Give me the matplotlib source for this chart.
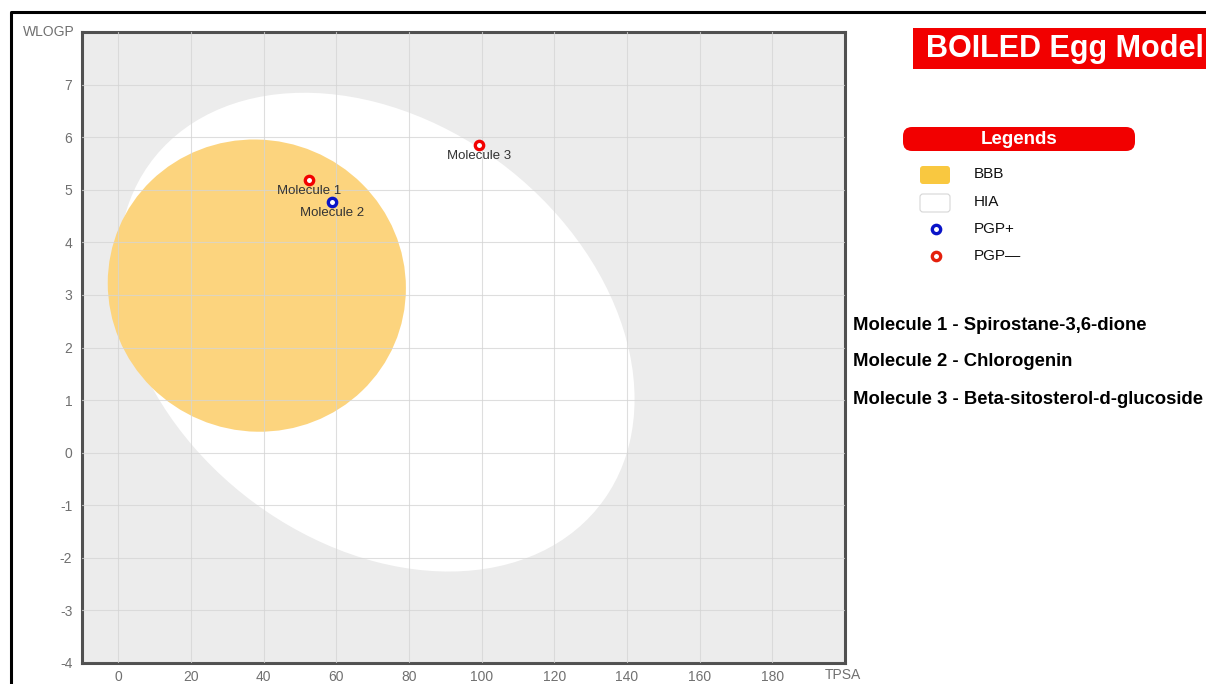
import matplotlib
matplotlib.use("Agg")
import matplotlib.pyplot as plt
from matplotlib.patches import Ellipse, Rectangle, FancyBboxPatch

# Molecules placed on the BOILED-Egg plane
molecule_labels = ["Molecule 1", "Molecule 2", "Molecule 3"]
molecule_names = ["Spirostane-3,6-dione", "Chlorogenin", "Beta-sitosterol-d-glucoside"]
tpsa = [52.60, 58.92, 99.38]
wlogp = [5.19, 4.77, 5.86]
pgp_substrate = [False, True, False]

# Region ellipses (centre x, centre y, width, height, angle in degrees)
hia_ellipse = (71.051, 2.292, 142.081, 8.740, -1.031325)
bbb_ellipse = (38.117, 3.177, 82.061, 5.557, -0.066883)

x_ticks = [0, 20, 40, 60, 80, 100, 120, 140, 160, 180]
y_ticks = [-4, -3, -2, -1, 0, 1, 2, 3, 4, 5, 6, 7]
legend_items = ["BBB", "HIA", "PGP+", "PGP\u2014"]

YOLK = "#FCD47E"
RED = "#F20000"
BLUE = "#0A14C8"
PGPRED = "#E4200C"

plt.rcParams["font.family"] = ["Liberation Sans", "DejaVu Sans"]
plt.rcParams["axes.unicode_minus"] = False

W, H = 1206, 684
fig = plt.figure(figsize=(W / 100, H / 100), dpi=100)

# main plotting area
ax = fig.add_axes([82 / W, 1 - 663 / H, (845 - 82) / W, (663 - 32) / H])
ax.set_facecolor("#ECECEC")
ax.set_xlim(-10, 200)
ax.set_ylim(-4, 8)

cx, cy, w, h, ang = hia_ellipse
ax.add_patch(Ellipse((cx, cy), w, h, angle=ang, facecolor="white", edgecolor="none", zorder=1))
cx, cy, w, h, ang = bbb_ellipse
ax.add_patch(Ellipse((cx, cy), w, h, angle=ang, facecolor=YOLK, edgecolor="none", zorder=1.5))

ax.set_axisbelow(False)
ax.grid(True, color="#D4D4D4", linewidth=0.8, alpha=0.75, zorder=2)
ax.set_xticks(x_ticks)
ax.set_yticks(y_ticks)
ax.tick_params(length=0, labelsize=10, labelcolor="#707070")
ax.tick_params(axis="x", pad=5)
ax.tick_params(axis="y", pad=7)
for s in ax.spines.values():
    s.set_color("#505050")
    s.set_linewidth(2.2)

for x, y, lab, pgp in zip(tpsa, wlogp, molecule_labels, pgp_substrate):
    ax.plot(x, y, "o", markersize=6, markerfacecolor="white",
            markeredgecolor=BLUE if pgp else RED, markeredgewidth=2.4, zorder=5)
    ax.annotate(lab, (x, y), xytext=(0, -8), textcoords="offset points",
                ha="center", va="center", fontsize=9.5, color="#333333", zorder=6)

ax.text(-0.01, 1.0, "WLOGP", transform=ax.transAxes, ha="right", va="center",
        fontsize=10, color="#707070")

# overlay in pixel units for the side panel and the page frame
ov = fig.add_axes([0, 0, 1, 1], zorder=10)
ov.set_xlim(0, W)
ov.set_ylim(H, 0)
ov.axis("off")
ov.patch.set_alpha(0)

ov.text(843, 675, "TPSA", ha="center", va="center", fontsize=10, color="#707070")

# page frame (left and top edges visible)
ov.plot([11, 11, W + 5], [H + 5, 12, 12], color="black", linewidth=2.2, solid_capstyle="butt")

# title banner
ov.add_patch(Rectangle((913, 28), W - 913 + 5, 41, facecolor=RED, edgecolor="none"))
ov.text(926, 49, "BOILED Egg Model", ha="left", va="center", fontsize=22,
        fontweight="bold", color="white")

# legend header pill
ov.add_patch(FancyBboxPatch((903, 127), 232, 24, boxstyle="round,pad=0,rounding_size=9",
                            facecolor=RED, edgecolor="none"))
ov.text(1019, 139.5, "Legends", ha="center", va="center", fontsize=13.5,
        fontweight="bold", color="white")

# legend rows
row_y = [174, 202, 229, 256]
ov.add_patch(FancyBboxPatch((920, 166), 30, 18, boxstyle="round,pad=0,rounding_size=3",
                            facecolor="#F9C840", edgecolor="none"))
ov.add_patch(FancyBboxPatch((920, 194), 30, 18, boxstyle="round,pad=0,rounding_size=3",
                            facecolor="white", edgecolor="#D6D6D6", linewidth=0.8))
ov.plot(936, row_y[2], "o", markersize=6, markerfacecolor="white",
        markeredgecolor=BLUE, markeredgewidth=2.4)
ov.plot(936, row_y[3], "o", markersize=6, markerfacecolor="white",
        markeredgecolor=PGPRED, markeredgewidth=2.4)
for yy, lab in zip(row_y, legend_items):
    ov.text(974, yy, lab, ha="left", va="center", fontsize=11, color="#111111")

# molecule key
key_y = [325, 362, 400]
for yy, lab, name in zip(key_y, molecule_labels, molecule_names):
    ov.text(853, yy, f"{lab} - {name}", ha="left", va="center", fontsize=13.3,
            fontweight="bold", color="black")

fig.savefig("out.png", dpi=100)
